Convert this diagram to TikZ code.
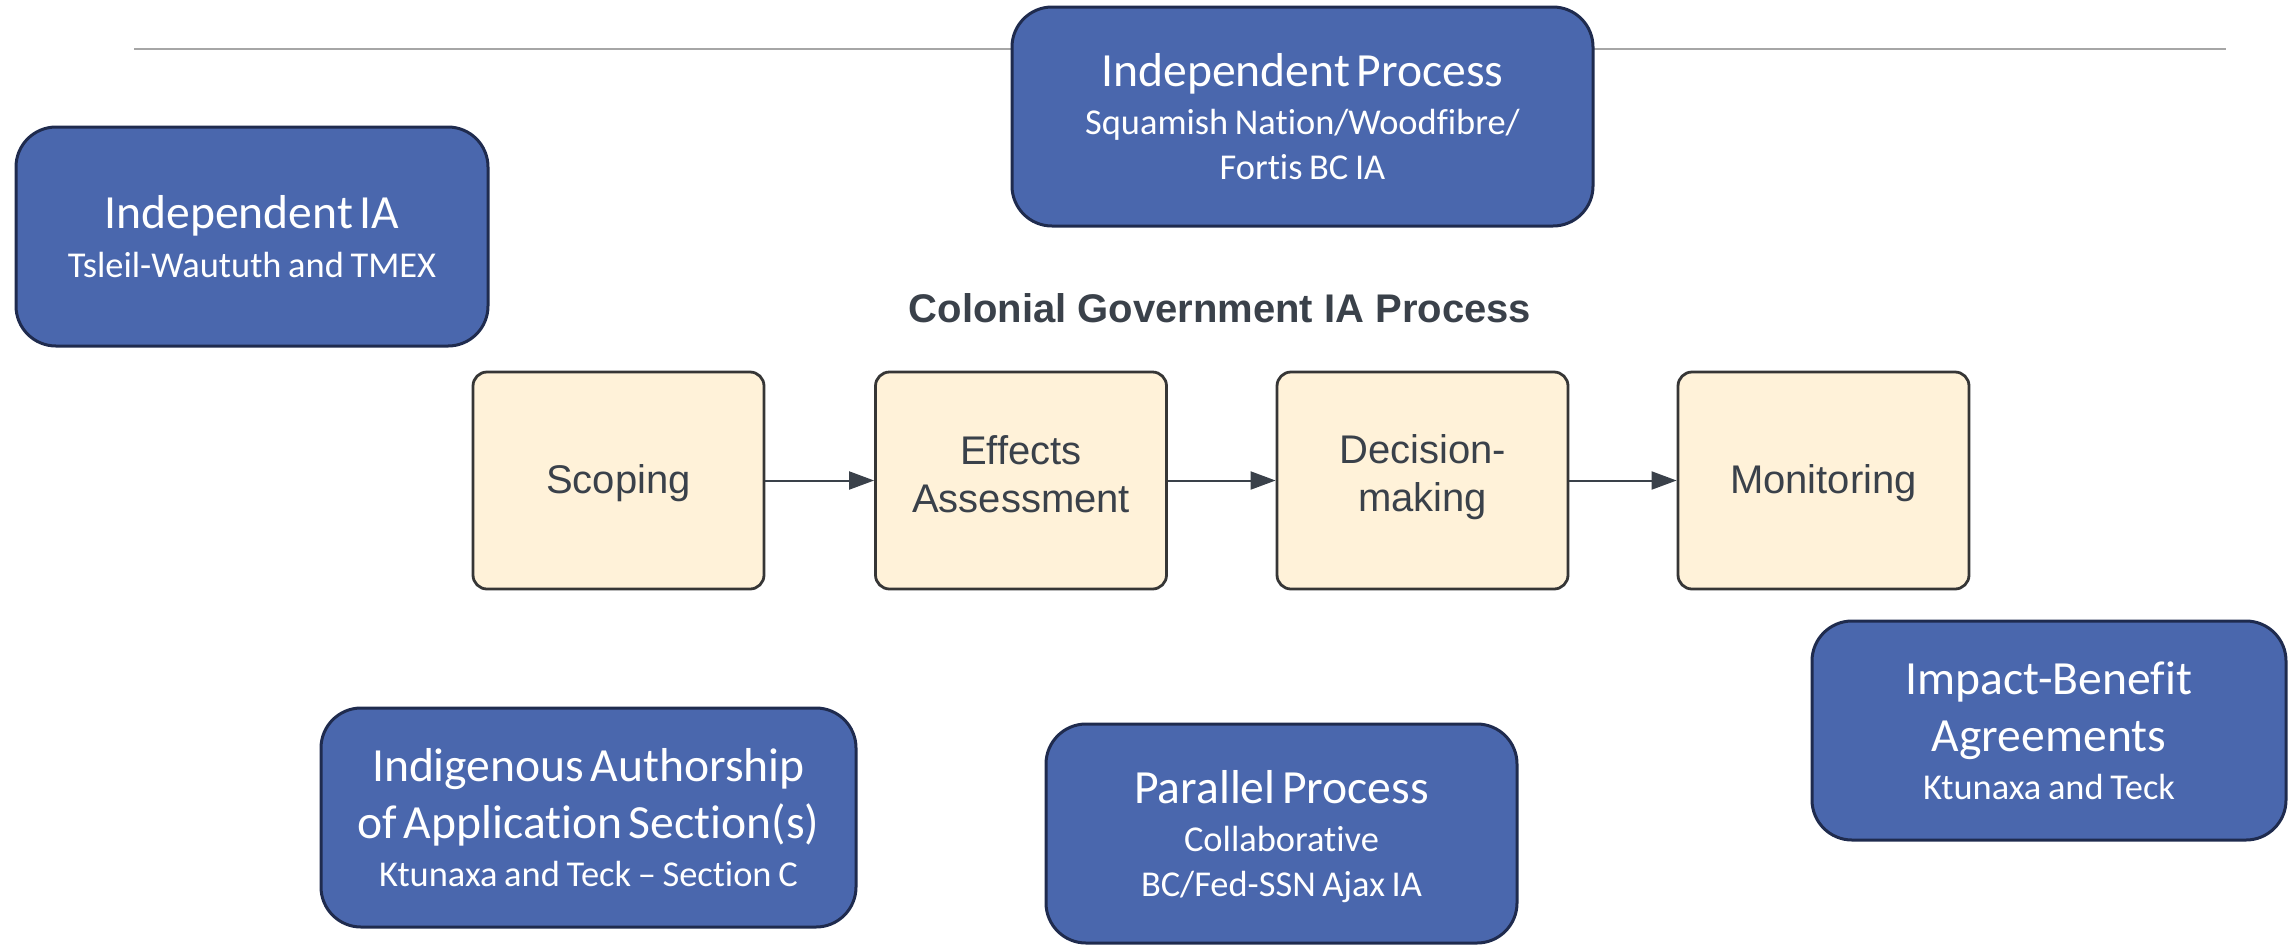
\documentclass[tikz,border=0pt]{standalone}
\usepackage{fontspec}
\setmainfont{Carlito}[Ligatures={TeX,CommonOff}]
\newfontfamily\arialfam{Liberation Sans}
\usetikzlibrary{arrows.meta}
\definecolor{boxblue}{HTML}{4A67AD}
\definecolor{boxborder}{HTML}{1F2B4E}
\definecolor{procfill}{HTML}{FFF2D9}
\definecolor{procdraw}{HTML}{363636}
\definecolor{proctext}{HTML}{3A414A}
\definecolor{rulegray}{HTML}{A6A6A6}
\newcommand\boxtitlefont{\fontsize{23.8}{28.5}\selectfont}
\newcommand\boxsubfont{\fontsize{18.2}{22.5}\selectfont}
\begin{document}
\begin{tikzpicture}[x=0.5pt,y=-0.5pt,
  bluebox/.style={draw=boxborder, line width=1.5pt, fill=boxblue, rounded corners=20pt,
    text=white, align=center, inner sep=0pt, minimum height=109.5pt},
  procbox/.style={draw=procdraw, line width=1.4pt, fill=procfill, rounded corners=7pt,
    minimum width=145.5pt, minimum height=108.5pt, text=proctext, inner sep=0pt,
    font=\arialfam\fontsize{20}{24}\selectfont, align=center},
  flow/.style={draw=proctext, line width=1pt, -{Triangle[length=12.5pt,width=9pt]}},
  headline/.style={draw=rulegray, line width=1.2pt}
]
\useasboundingbox (0,0) rectangle (2290,944);
% top rule
\coordinate (ruleL) at (134,49);
\coordinate (ruleR) at (2226,49);
\draw[headline] (ruleL) -- (ruleR);

% blue boxes
\node[bluebox, minimum width=290.5pt, text width=276pt] (indproc) at (1302.5,116.5)
  {\boxtitlefont Independent Process\par\boxsubfont\vspace{1.5pt}Squamish Nation/Woodfibre/\\Fortis BC IA\par};
\node[bluebox, minimum width=236pt, text width=226pt] (india) at (252,236.5)
  {\boxtitlefont Independent IA\par\boxsubfont\vspace{2pt}Tsleil-Waututh and TMEX\par};
\node[bluebox, minimum width=237pt, text width=226pt] (ibe) at (2049,730.5)
  {\boxtitlefont Impact-Benefit\\Agreements\par\boxsubfont\vspace{1.5pt}Ktunaxa and Teck\par};
\node[bluebox, minimum width=267.5pt, text width=258pt] (indauth) at (588.5,817.5)
  {\boxtitlefont Indigenous Authorship\\of Application Section(s)\par\boxsubfont\vspace{1.5pt}Ktunaxa and Teck – Section C\par};
\node[bluebox, minimum width=235.5pt, text width=226pt] (par) at (1281.5,833.5)
  {\boxtitlefont Parallel Process\par\boxsubfont\vspace{1.5pt}Collaborative\\\smash{BC/Fed-SSN Ajax IA}\par};

% process title
\node[font=\arialfam\bfseries\fontsize{20}{24}\selectfont, text=proctext] (cgtitle) at (1220,308)
  {Colonial Government IA Process};

% process boxes
\node[procbox] (scop) at (618.5,480.5) {\rule{0pt}{17pt}Scoping};
\node[procbox] (eff)  at (1021,480.5) {Effects\\Assessment\rule[-6pt]{0pt}{0pt}};
\node[procbox] (dec)  at (1422.5,480.5) {Decision-\\making\rule[-8pt]{0pt}{0pt}};
\node[procbox] (mon)  at (1823.5,480.5) {\rule{0pt}{17pt}Monitoring};

\draw[flow] (scop) -- (eff);
\draw[flow] (eff) -- (dec);
\draw[flow] (dec) -- (mon);
\end{tikzpicture}
\end{document}
